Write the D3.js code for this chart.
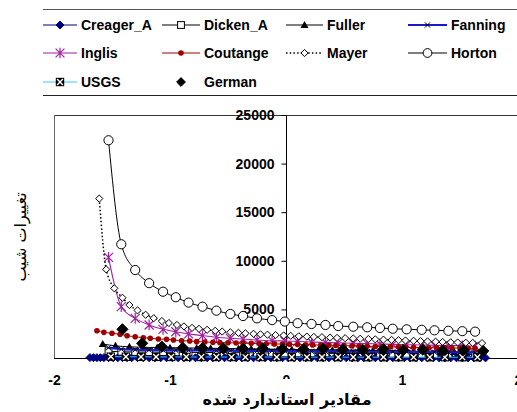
<!DOCTYPE html>
<html><head><meta charset="utf-8">
<script src="https://cdn.jsdelivr.net/npm/d3@7"></script>
<style>body{margin:0;background:#fff}</style></head>
<body><svg id="c" width="517" height="412"></svg>
<script>
// ---------- DATA ----------
const seriesNames = ["Creager_A","Dicken_A","Fuller","Fanning","Inglis","Coutange","Mayer","Horton","USGS","German"];
const xTicks = [-2,-1,0,1,2];
const yTicks = [5000,10000,15000,20000,25000];
const xTitle = "مقادیر استاندارد شده";
const yTitle = "تغییرات شیب";

// standardized x values
const xA = [-1.53,-1.42,-1.30,-1.18,-1.06,-0.95,-0.84,-0.72,-0.60,-0.48,-0.37,-0.25,-0.12,-0.01,0.10,0.22,0.34,0.45,0.58,0.70,0.81,0.92,1.04,1.17,1.28,1.40,1.52,1.63];
const xB = [-1.61,-1.55,-1.48,-1.41,-1.35,-1.28,-1.21,-1.14,-1.07,-1.01,-0.94,-0.88,-0.81,-0.75,-0.68,-0.61,-0.55,-0.48,-0.41,-0.35,-0.28,-0.22,-0.16,-0.09,-0.02,0.04,0.11,0.18,0.24,0.31,0.38,0.44,0.51,0.58,0.64,0.71,0.77,0.84,0.91,0.97,1.03,1.10,1.16,1.22,1.29,1.35,1.42,1.48,1.55,1.61,1.69];
const xC = [-1.63,-1.57,-1.50,-1.43,-1.37,-1.30,-1.23,-1.17,-1.10,-1.03,-0.97,-0.90,-0.83,-0.77,-0.70,-0.63,-0.57,-0.50,-0.43,-0.37,-0.30,-0.23,-0.17,-0.10,-0.03,0.03,0.10,0.17,0.23,0.30,0.37,0.43,0.50,0.57,0.63,0.70,0.77,0.83,0.90,0.97,1.03,1.10,1.17,1.23,1.30,1.37,1.43,1.50,1.57,1.63];
const xCr = [-1.69,-1.66,-1.63,-1.60,-1.57,-1.53,-1.49,-1.45,-1.41,-1.37,-1.33,-1.28,-1.23,-1.18,-1.13,-1.08,-1.03,-0.98,-0.93,-0.88,-0.83,-0.78,-0.73,-0.68,-0.63,-0.58,-0.53,-0.48,-0.43,-0.38,-0.33,-0.28,-0.23,-0.18,-0.13,-0.08,-0.03,0.02,0.07,0.12,0.17,0.22,0.27,0.32,0.37,0.42,0.47,0.52,0.57,0.62,0.67,0.72,0.77,0.82,0.87,0.92,0.97,1.02,1.07,1.12,1.17,1.22,1.27,1.32,1.37,1.42,1.47,1.52,1.57,1.62,1.67,1.72];
const xF = [-1.58,-1.47,-1.35,-1.23,-1.11,-1.00,-0.88,-0.77,-0.65,-0.53,-0.41,-0.30,-0.18,-0.07,0.05,0.16,0.28,0.40,0.52,0.63,0.75,0.86,0.98,1.10,1.22,1.33,1.45,1.56,1.68];
const xU = [-1.51,-1.38,-1.25,-1.12,-0.99,-0.86,-0.73,-0.60,-0.47,-0.35,-0.22,-0.08,0.05,0.18,0.31,0.45,0.58,0.71,0.84,0.97,1.10,1.24,1.37,1.52,1.65];
const xG = [-1.41,-1.24,-1.07,-0.89,-0.72,-0.54,-0.37,-0.20,-0.03,0.15,0.32,0.49,0.66,0.84,1.01,1.18,1.35,1.53,1.70];

// series values (change of slope)
const creagerA = [40,38,36,35,34,33,32,31,30,30,29,29,28,28,27,27,26,26,25,25,25,24,24,24,23,23,23,22,22,22,21,21,21,20,20,20,20,19,19,19,19,18,18,18,18,17,17,17,17,16,16,16,16,15,15,15,15,15,14,14,14,14,14,13,13,13,13,13,12,12,12,12];
const dickenA = [700,640,620,610,600,590,580,570,560,550,540,530,520,510,500,490,480,470,460,450,440,430,420,410,400,390,380,370];
const fuller = [1440,1250,1150,1100,1080,1060,1040,1020,1000,980,960,940,920,900,880,860,840,820,800,780,760,740,720,700,680,660,640,620,600];
const fanning = [1060,900,850,820,800,790,780,770,760,750,740,730,720,710,700,690,680,670,660,650,640,630,620,610,600,590,580,570];
const inglis = [10360,5280,4080,3400,2950,2700,2480,2300,2140,2030,1950,1850,1780,1750,1700,1650,1600,1560,1520,1480,1440,1400,1370,1340,1310,1280,1250,1220];
const coutange = [2810,2640,2540,2440,2290,2190,2090,2030,1950,1920,1850,1780,1750,1680,1650,1610,1580,1570,1550,1530,1510,1490,1470,1450,1430,1410,1390,1370,1350,1330,1310,1290,1270,1250,1230,1210,1190,1170,1150,1130,1110,1090,1075,1060,1050,1040,1030,1020,1010,1000];
const mayer = [16400,9120,7170,6200,5450,4900,4450,4100,3800,3600,3400,3250,3100,3000,2900,2800,2720,2650,2590,2540,2490,2440,2400,2360,2320,2280,2240,2200,2170,2140,2100,2070,2040,2010,1980,1950,1920,1890,1860,1830,1800,1770,1740,1710,1680,1650,1620,1600,1570,1550,1530];
const horton = [22400,11700,9050,7700,6820,6250,5700,5280,4870,4530,4320,4080,3900,3750,3580,3500,3400,3290,3220,3160,3090,3010,2950,2900,2850,2800,2760,2710];
const usgs = [140,130,120,115,110,110,105,105,100,100,100,95,95,95,90,90,90,85,85,85,80,80,80,80,80];
const german = [2950,1510,1160,1050,1000,980,950,1000,930,900,960,880,850,900,820,850,780,800,720];

// ---------- STYLES ----------
const styles = {
  "Creager_A": {x:xCr, y:creagerA, line:"#000080", w:1, marker:"diamond", fill:"#000080", stroke:"#000080", s:4},
  "Dicken_A":  {x:xA, y:dickenA, line:"#000", w:1, marker:"square", fill:"#fff", stroke:"#000", s:3.4},
  "Fuller":    {x:xF, y:fuller, line:"#000", w:1, marker:"triangle", fill:"#000", stroke:"#000", s:4},
  "Fanning":   {x:xA, y:fanning, line:"#1a1acc", w:2.2, marker:"x", fill:"none", stroke:"#000", s:2.6},
  "Inglis":    {x:xA, y:inglis, line:"#a020a0", w:1.1, marker:"star", fill:"none", stroke:"#a020a0", s:4.5},
  "Coutange":  {x:xC, y:coutange, line:"#a00000", w:1, marker:"dot", fill:"#a00000", stroke:"#a00000", s:2.8},
  "Mayer":     {x:xB, y:mayer, line:"#000", w:1.5, dash:"1.5,2.2", marker:"diamond", fill:"#fff", stroke:"#000", s:3.6},
  "Horton":    {x:xA, y:horton, line:"#000", w:1, marker:"circle", fill:"#fff", stroke:"#000", s:4.6},
  "USGS":      {x:xU, y:usgs, line:"#33ccff", w:1, marker:"usgs", fill:"#000", stroke:"#000", s:4.2},
  "German":    {x:xG, y:german, line:null, w:0, marker:"diamond", fill:"#000", stroke:"#000", s:5.6}
};

// ---------- CHART ----------
const svg = d3.select("#c");
const x = d3.scaleLinear().domain([-2,2]).range([54,518]);
const y = d3.scaleLinear().domain([0,25000]).range([358,115]);
const FONT = "'Liberation Sans', Arial, sans-serif";

function marker(g, st, cx, cy){
  const s = st.s;
  switch(st.marker){
    case "diamond":
      g.append("path").attr("d",`M${cx},${cy-s}L${cx+s},${cy}L${cx},${cy+s}L${cx-s},${cy}Z`)
        .attr("fill",st.fill).attr("stroke",st.stroke).attr("stroke-width",1); break;
    case "square":
      g.append("rect").attr("x",cx-s).attr("y",cy-s).attr("width",2*s).attr("height",2*s)
        .attr("fill",st.fill).attr("stroke",st.stroke).attr("stroke-width",1); break;
    case "triangle":
      g.append("path").attr("d",`M${cx},${cy-s}L${cx+s},${cy+s*0.75}L${cx-s},${cy+s*0.75}Z`)
        .attr("fill",st.fill); break;
    case "x":
      g.append("path").attr("d",`M${cx-s},${cy-s}L${cx+s},${cy+s}M${cx-s},${cy+s}L${cx+s},${cy-s}`)
        .attr("stroke",st.stroke).attr("stroke-width",1); break;
    case "star":
      g.append("path").attr("d",`M${cx-s},${cy-s}L${cx+s},${cy+s}M${cx-s},${cy+s}L${cx+s},${cy-s}M${cx},${cy-s*1.2}L${cx},${cy+s*1.2}`)
        .attr("stroke",st.stroke).attr("stroke-width",1.2); break;
    case "dot":
      g.append("circle").attr("cx",cx).attr("cy",cy).attr("r",s).attr("fill",st.fill); break;
    case "circle":
      g.append("circle").attr("cx",cx).attr("cy",cy).attr("r",s).attr("fill",st.fill)
        .attr("stroke",st.stroke).attr("stroke-width",1); break;
    case "usgs":
      g.append("rect").attr("x",cx-s).attr("y",cy-s).attr("width",2*s).attr("height",2*s).attr("fill","#000");
      g.append("path").attr("d",`M${cx-s+1.3},${cy-s+1.3}L${cx+s-1.3},${cy+s-1.3}M${cx-s+1.3},${cy+s-1.3}L${cx+s-1.3},${cy-s+1.3}`)
        .attr("stroke","#fff").attr("stroke-width",1.4); break;
  }
}

// plot area border
svg.append("line").attr("x1",54).attr("x2",517).attr("y1",115.5).attr("y2",115.5).attr("stroke","#333");
svg.append("line").attr("x1",54.5).attr("x2",54.5).attr("y1",115).attr("y2",358).attr("stroke","#666");

// axes
const fmt = d => String(d);
const yAxis = d3.axisLeft(y).tickValues(yTicks).tickSize(5).tickPadding(7).tickFormat(fmt);
const gy = svg.append("g").attr("transform",`translate(${x(0)+0.5},0)`).call(yAxis);
gy.select(".domain").attr("d",`M0,${y(25000)}V${y(0)}`).attr("stroke","#000");
gy.selectAll("text").attr("font-family",FONT).attr("font-size",14).attr("font-weight","bold").attr("fill","#000");

const xAxis = d3.axisBottom(x).tickValues(xTicks).tickSize(0).tickPadding(17).tickFormat(fmt);
const gx = svg.append("g").attr("transform",`translate(0,${y(0)+0.5})`).call(xAxis);
gx.select(".domain").attr("d",`M${x(-2)},0H517`).attr("stroke","#000");
gx.selectAll("text").attr("font-family",FONT).attr("font-size",14).attr("font-weight","bold").attr("fill","#000");

// series
const plot = svg.append("g");
seriesNames.forEach(name=>{
  const st = styles[name];
  const pts = st.x.map((v,i)=>[x(v), y(st.y[i])]);
  const g = plot.append("g");
  if(st.line){
    g.append("path").attr("d", d3.line().curve(d3.curveMonotoneX)(pts))
      .attr("fill","none").attr("stroke",st.line).attr("stroke-width",st.w)
      .attr("stroke-dasharray",st.dash||null);
  }
  pts.forEach(p=>marker(g, st, p[0], p[1]));
});

// axis titles
const bgRect = svg.append("rect").attr("fill","#fff");
const xt = svg.append("text").attr("x",287).attr("y",405).attr("text-anchor","middle")
  .attr("font-family","'DejaVu Sans', sans-serif").attr("font-size",16).attr("font-weight","bold")
  .attr("fill","#000").text(xTitle);
const bb = xt.node().getBBox();
bgRect.attr("x",bb.x-4).attr("y",379).attr("width",bb.width+8).attr("height",33);

svg.append("text").attr("transform","translate(26,237) rotate(-90)").attr("text-anchor","middle")
  .attr("font-family","'DejaVu Sans', sans-serif").attr("font-size",16)
  .attr("fill","#000").text(yTitle);

// legend
svg.append("line").attr("x1",43).attr("x2",517).attr("y1",9.5).attr("y2",9.5).attr("stroke","#555");
svg.append("line").attr("x1",43).attr("x2",517).attr("y1",95.5).attr("y2",95.5).attr("stroke","#222");
const colX = [43,162,286,408];
const colLen = [34,38,37,39];
const rowY = [25,53,82];
seriesNames.forEach((name,i)=>{
  const st = styles[name];
  const c = i%4;
  const cx0 = colX[c], len = colLen[c], cy = rowY[Math.floor(i/4)];
  const g = svg.append("g");
  if(st.line){
    g.append("line").attr("x1",cx0).attr("x2",cx0+len).attr("y1",cy).attr("y2",cy)
      .attr("stroke",st.line).attr("stroke-width",st.w).attr("stroke-dasharray",st.dash||null);
  }
  const ls = Object.assign({}, st, {s: Math.min(st.s, 4.4)});
  marker(g, ls, cx0+len/2, cy);
  g.append("text").attr("x",cx0+len+4).attr("y",cy+5).attr("font-family",FONT).attr("font-size",14)
    .attr("font-weight","bold").attr("fill","#000").text(name);
});
</script>
</body></html>
